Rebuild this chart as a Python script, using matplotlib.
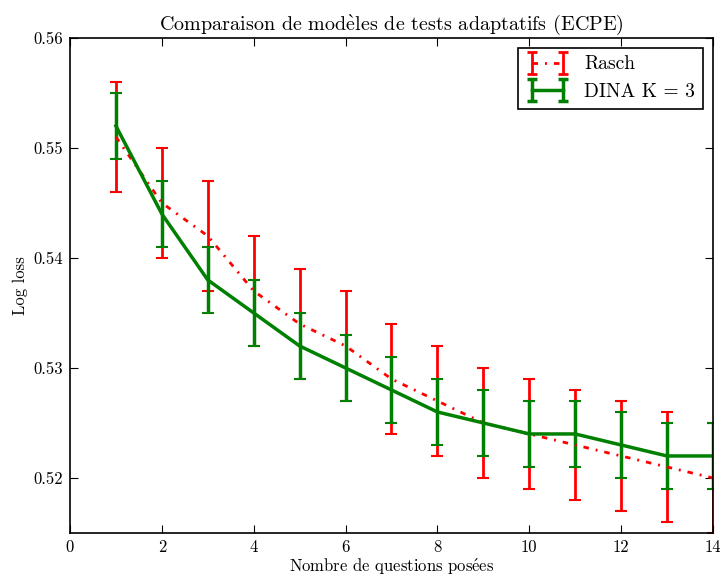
import numpy as np
import matplotlib
matplotlib.use('Agg')
import matplotlib.pyplot as plt
from matplotlib.ticker import FormatStrFormatter
from matplotlib.lines import Line2D
from matplotlib.path import Path

# data
n_questions = [1, 2, 3, 4, 5, 6, 7, 8, 9, 10, 11, 12, 13, 14]
rasch_loss = [0.551, 0.545, 0.542, 0.537, 0.534, 0.532, 0.529, 0.527, 0.525, 0.524, 0.523, 0.522, 0.521, 0.520]
rasch_err = [0.005] * 14
dina_loss = [0.552, 0.544, 0.538, 0.535, 0.532, 0.530, 0.528, 0.526, 0.525, 0.524, 0.524, 0.523, 0.522, 0.522]
dina_err = [0.003] * 14

plt.rcParams['font.family'] = ['cmr10', 'DejaVu Serif']
plt.rcParams['mathtext.fontset'] = 'cm'
plt.rcParams['axes.unicode_minus'] = False
plt.rcParams['xtick.direction'] = 'in'
plt.rcParams['ytick.direction'] = 'in'
plt.rcParams['xtick.top'] = True
plt.rcParams['ytick.right'] = True

rasch_dashes = (2, 2.5, 0.7, 2.5)

fig = plt.figure(figsize=(7.2, 5.77), dpi=100)
ax = fig.add_axes([0.0972, 0.0763, 0.893, 0.858])

ax.errorbar(n_questions, rasch_loss, yerr=rasch_err, color='red', dashes=rasch_dashes,
            linewidth=2, elinewidth=2, capsize=4, capthick=1.5)
ax.errorbar(n_questions, dina_loss, yerr=dina_err, color='green', linestyle='-',
            linewidth=2.5, elinewidth=2.5, capsize=4, capthick=1.5)

ax.set_xlim(0, 14)
ax.set_ylim(0.515, 0.56)
ax.set_xticks(np.arange(0, 15, 2))
ax.set_yticks([0.52, 0.53, 0.54, 0.55, 0.56])
ax.yaxis.set_major_formatter(FormatStrFormatter('%.2f'))
ax.tick_params(labelsize=12, length=6, width=0.8, pad=5)
for s in ax.spines.values():
    s.set_linewidth(1.2)

ax.set_title(r'Comparaison de mod$\grave{\rm e}$les de tests adaptatifs (ECPE)', fontsize=14.5)
ax.set_xlabel(r'Nombre de questions pos$\acute{\rm e}$es', fontsize=12, labelpad=1)
ax.set_ylabel('Log loss', fontsize=12)

# old-style errorbar legend: line between two capped vertical bars
cap_path = Path([(-0.45, 1), (0.45, 1), (0, 1), (0, -1), (-0.45, -1), (0.45, -1)],
                [Path.MOVETO, Path.LINETO, Path.MOVETO, Path.LINETO, Path.MOVETO, Path.LINETO])
rasch_h = (Line2D([], [], color='red', dashes=rasch_dashes, linewidth=2),
           Line2D([], [], color='red', linestyle='none', marker=cap_path, markersize=16,
                  markeredgewidth=2, markerfacecolor='none'))
dina_h = (Line2D([], [], color='green', linestyle='-', linewidth=2.5),
          Line2D([], [], color='green', linestyle='none', marker=cap_path, markersize=16,
                 markeredgewidth=2.5, markerfacecolor='none'))

leg = ax.legend([rasch_h, dina_h], ['Rasch', 'DINA K = 3'], loc='upper right', fontsize=14,
                numpoints=2, fancybox=False, framealpha=1, edgecolor='black',
                borderaxespad=0.5, handlelength=2.2)
leg.get_frame().set_linewidth(1.2)

plt.savefig('out.png', dpi=100)
